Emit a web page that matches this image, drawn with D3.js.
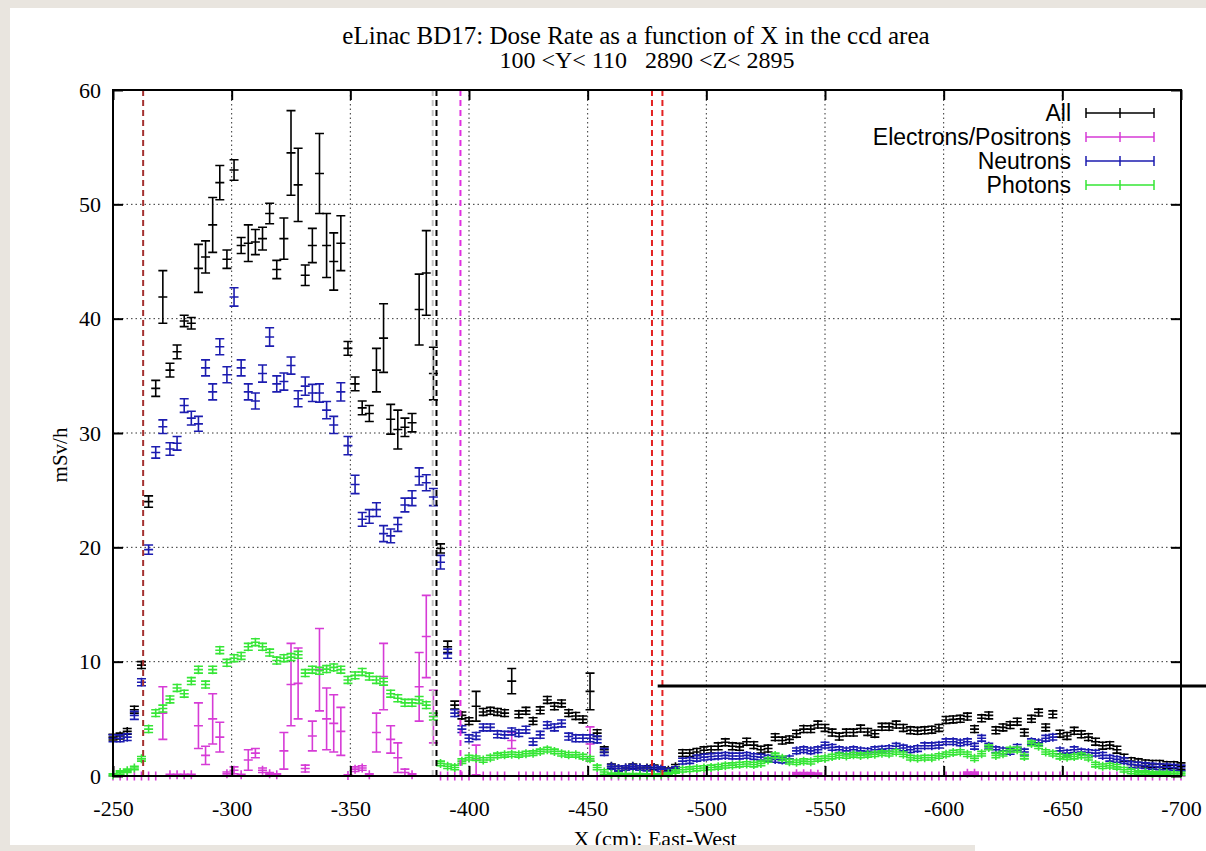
<!DOCTYPE html>
<html>
<head>
<meta charset="utf-8">
<script src="https://cdn.jsdelivr.net/npm/d3@7"></script>
<style>
  html, body { margin: 0; padding: 0; background: #e9e5df; }
  svg { display: block; }
</style>
</head>
<body>
<svg id="chart" width="1206" height="851"></svg>
<script>
// ---- data: dose rate (mSv/h) per 3 cm bin along X, 100<Y<110, 2890<Z<2895 ----
const xBins = [
  -250,-253,-256,-259,-262,-265,-268,-271,-274,-277,
  -280,-283,-286,-289,-292,-295,-298,-301,-304,-307,
  -310,-313,-316,-319,-322,-325,-328,-331,-334,-337,
  -340,-343,-346,-349,-352,-355,-358,-361,-364,-367,
  -370,-373,-376,-379,-382,-385,-388,-391,-394,-397,
  -400,-403,-406,-409,-412,-415,-418,-421,-424,-427,
  -430,-433,-436,-439,-442,-445,-448,-451,-454,-457,
  -460,-463,-466,-469,-472,-475,-478,-481,-484,-487,
  -490,-493,-496,-499,-502,-505,-508,-511,-514,-517,
  -520,-523,-526,-529,-532,-535,-538,-541,-544,-547,
  -550,-553,-556,-559,-562,-565,-568,-571,-574,-577,
  -580,-583,-586,-589,-592,-595,-598,-601,-604,-607,
  -610,-613,-616,-619,-622,-625,-628,-631,-634,-637,
  -640,-643,-646,-649,-652,-655,-658,-661,-664,-667,
  -670,-673,-676,-679,-682,-685,-688,-691,-694,-697,
  -700
];

const allDose = [
  3.4,3.5,3.9,5.8,9.7,24.0,33.9,41.9,35.5,37.1,
  39.8,39.6,44.4,45.4,48.2,51.9,45.2,53.0,46.4,46.6,
  46.7,47.0,49.2,44.3,47.0,54.5,51.7,43.8,46.4,52.7,
  46.4,45.0,46.6,37.4,34.3,32.2,31.7,35.5,38.3,31.2,
  30.3,30.5,30.9,40.8,44.0,35.2,19.9,11.3,6.2,5.3,
  4.8,6.1,5.6,5.7,5.6,5.5,8.3,5.4,5.7,4.8,
  5.75,6.65,6.1,6.35,5.5,5.25,4.95,7.4,3.75,2.3,
  0.85,0.65,0.7,0.85,0.7,0.7,0.75,0.6,0.5,0.8,
  2.0,2.0,2.1,2.25,2.3,2.6,2.95,2.6,2.55,3.0,
  2.7,2.3,2.4,3.4,3.1,3.2,3.7,4.1,4.1,4.5,
  4.2,3.8,3.45,3.8,3.8,4.15,3.85,3.7,4.3,4.3,
  4.5,4.2,4.0,3.95,4.0,4.05,4.2,4.9,4.95,5.0,
  5.2,4.1,5.05,5.3,4.0,4.25,4.45,4.75,3.8,5.0,
  5.55,4.25,5.4,3.7,3.5,3.95,3.65,3.4,3.0,2.65,
  2.7,2.3,1.6,1.3,1.2,1.1,1.05,1.05,0.95,0.95,
  0.85
];
const allErr = [
  0.25,0.25,0.25,0.3,0.3,0.5,0.7,2.3,0.6,0.6,
  0.5,0.5,2.1,1.4,2.4,1.5,0.8,0.9,0.7,1.6,
  1.1,1.0,0.9,0.8,1.8,3.7,3.2,0.9,1.5,3.5,
  2.8,2.5,2.4,0.6,0.6,0.6,0.7,1.9,3.0,1.3,
  1.7,0.8,0.8,3.1,3.7,2.3,0.4,0.5,0.35,0.3,
  0.3,1.3,0.3,0.3,0.3,0.3,1.1,0.3,0.3,0.3,
  0.3,0.3,0.3,0.3,0.3,0.3,0.3,1.6,0.3,0.25,
  0.2,0.2,0.2,0.2,0.2,0.2,0.2,0.2,0.2,0.2,
  0.3,0.3,0.3,0.3,0.3,0.3,0.3,0.3,0.3,0.3,
  0.3,0.3,0.3,0.3,0.3,0.3,0.3,0.3,0.3,0.3,
  0.3,0.3,0.3,0.3,0.3,0.3,0.3,0.3,0.3,0.3,
  0.3,0.3,0.3,0.3,0.3,0.3,0.3,0.3,0.3,0.3,
  0.3,0.3,0.3,0.3,0.3,0.3,0.3,0.3,0.3,0.3,
  0.3,0.3,0.3,0.3,0.3,0.3,0.3,0.3,0.3,0.3,
  0.3,0.3,0.3,0.3,0.3,0.3,0.3,0.3,0.3,0.3,
  0.3
];

const electronDose = [
  0,0,0,0,0,0,0,5.5,0.1,0.1,
  0.1,0.1,4.4,1.8,5.0,3.4,0.2,0.5,0.1,1.4,
  2.0,0.5,0.2,0.1,2.2,8.0,8.1,0.65,3.5,9.3,
  5.0,4.6,3.9,0.05,0.6,0.7,0.1,3.8,8.7,3.2,
  1.6,0.3,0.1,7.8,12.2,5.2,0,0,0,0,
  0,1.4,0,0,0,0,3.1,0,0,0,
  0,0,0,0,0,0,0,2.8,0,0,
  0,0,0,0,0,0,0,0,0,0,
  0,0,0,0,0,0,0,0,0,0,
  0,0,0,0,0,0,0.2,0.2,0.2,0.15,
  0,0,0,0,0,0,0,0,0,0,
  0,0,0,0,0,0,0,0,0,0,
  0.25,0.25,0,0,0,0,0,0,0,0,
  0,0,0,0,0,0,0,0,0,0,
  0,0,0,0,0,0,0,0,0,0,
  0
];
const electronErr = [
  0,0,0,0,0,0,0,2.3,0.05,0.05,
  0.05,0.05,2.0,0.8,2.2,1.3,0.15,0.3,0.05,0.9,
  0.4,0.2,0.1,0.1,1.6,3.6,3.1,0.3,1.3,3.6,
  2.7,2.5,2.1,0.05,0.2,0.2,0.1,1.7,2.9,1.2,
  1.3,0.3,0.1,3.0,3.6,2.3,0,0,0,0,
  0,1.3,0,0,0,0,0.7,0,0,0,
  0,0,0,0,0,0,0,1.5,0,0,
  0,0,0,0,0,0,0,0,0,0,
  0,0,0,0,0,0,0,0,0,0,
  0,0,0,0,0,0,0.1,0.1,0.1,0.1,
  0,0,0,0,0,0,0,0,0,0,
  0,0,0,0,0,0,0,0,0,0,
  0.1,0.1,0,0,0,0,0,0,0,0,
  0,0,0,0,0,0,0,0,0,0,
  0,0,0,0,0,0,0,0,0,0,
  0
];

const neutronDose = [
  3.3,3.3,3.4,5.3,8.2,19.8,28.3,30.55,28.6,29.1,
  32.4,31.3,30.8,35.7,33.6,37.55,35.1,41.9,35.7,33.6,
  32.8,35.2,38.4,34.3,34.5,35.9,33.0,34.1,33.5,33.5,
  32.0,30.7,33.6,28.9,25.5,22.45,22.7,23.3,21.2,21.0,
  22.0,23.7,24.3,26.2,25.65,24.4,18.7,10.7,5.5,4.1,
  3.3,3.5,4.25,4.25,3.65,3.6,3.9,3.75,4.05,3.0,
  3.6,4.45,4.25,4.6,3.45,3.3,3.3,3.3,3.2,2.1,
  0.8,0.65,0.7,0.8,0.7,0.65,0.7,0.6,0.4,0.6,
  1.3,1.35,1.55,1.65,1.7,1.75,1.8,1.75,1.75,1.8,
  1.7,1.65,1.55,1.45,1.4,1.5,2.2,2.3,2.2,2.3,
  2.7,2.5,2.3,2.2,2.3,2.2,2.15,2.3,2.35,2.4,
  2.6,2.45,2.3,2.4,2.65,2.65,2.7,3.0,3.0,2.9,
  3.0,2.6,3.3,2.6,2.3,2.2,2.15,2.5,2.1,3.0,
  2.9,3.3,3.4,2.2,2.0,2.3,2.1,2.05,2.0,1.8,
  1.55,1.45,1.35,1.0,0.95,0.9,0.85,0.8,0.8,0.75,
  0.7
];
const neutronErr = [
  0.3,0.3,0.3,0.35,0.3,0.4,0.5,0.6,0.55,0.6,
  0.6,0.6,0.65,0.7,0.7,0.7,0.7,0.8,0.7,0.7,
  0.7,0.75,0.8,0.7,0.75,0.75,0.7,0.8,0.75,0.8,
  0.75,0.75,0.8,0.8,0.8,0.6,0.6,0.6,0.7,0.6,
  0.6,0.6,0.65,0.75,0.7,0.75,0.6,0.4,0.3,0.3,
  0.3,0.3,0.3,0.3,0.3,0.3,0.3,0.3,0.3,0.3,
  0.3,0.3,0.3,0.3,0.3,0.3,0.3,0.3,0.3,0.3,
  0.2,0.2,0.2,0.2,0.2,0.2,0.2,0.2,0.2,0.2,
  0.25,0.25,0.25,0.25,0.25,0.25,0.25,0.25,0.25,0.25,
  0.25,0.25,0.25,0.25,0.25,0.25,0.25,0.25,0.25,0.25,
  0.25,0.25,0.25,0.25,0.25,0.25,0.25,0.25,0.25,0.25,
  0.25,0.25,0.25,0.25,0.25,0.25,0.25,0.25,0.25,0.25,
  0.25,0.25,0.25,0.25,0.25,0.25,0.25,0.25,0.25,0.25,
  0.25,0.25,0.25,0.25,0.25,0.25,0.25,0.25,0.25,0.25,
  0.25,0.25,0.25,0.25,0.25,0.25,0.25,0.25,0.25,0.25,
  0.25
];

const photonDose = [
  0.1,0.3,0.45,0.7,1.5,4.1,5.5,5.9,6.7,7.7,
  7.2,8.3,9.3,8.0,9.3,11.0,9.9,10.3,10.5,11.3,
  11.7,11.3,10.8,10.1,10.3,10.4,10.6,9.0,9.3,9.2,
  9.35,9.5,9.3,8.4,8.8,9.1,8.7,8.4,8.25,7.2,
  6.8,6.4,6.4,6.65,6.2,5.2,1.1,0.85,0.75,1.3,
  1.6,1.55,1.4,1.6,1.8,1.85,1.9,1.85,1.95,2.0,
  2.15,2.3,2.15,1.95,1.85,1.85,1.7,1.5,0.75,0.35,
  0.15,0.15,0.12,0.12,0.12,0.1,0.1,0.1,0.2,0.4,
  0.55,0.6,0.65,0.7,0.75,0.8,0.9,0.95,1.0,1.05,
  1.0,1.1,1.4,1.8,1.55,1.25,1.2,1.3,1.25,1.5,
  1.55,1.7,1.8,1.75,1.85,1.8,1.85,1.9,2.0,1.95,
  2.1,1.9,1.6,1.55,1.6,1.6,1.75,1.9,2.05,2.1,
  1.9,1.55,1.95,2.5,1.8,1.95,2.3,2.3,1.7,2.85,
  2.6,2.1,1.95,1.7,1.65,1.7,1.8,1.6,1.0,0.85,
  0.9,0.8,0.55,0.4,0.3,0.3,0.25,0.25,0.25,0.2,
  0.2
];
const photonErr = [
  0.1,0.15,0.15,0.15,0.2,0.3,0.3,0.3,0.3,0.3,
  0.3,0.3,0.3,0.3,0.3,0.3,0.3,0.3,0.3,0.3,
  0.3,0.3,0.3,0.3,0.3,0.3,0.3,0.3,0.3,0.3,
  0.3,0.3,0.3,0.3,0.3,0.3,0.3,0.3,0.3,0.3,
  0.3,0.3,0.3,0.3,0.3,0.3,0.2,0.2,0.2,0.2,
  0.2,0.2,0.2,0.2,0.2,0.2,0.2,0.2,0.2,0.2,
  0.2,0.2,0.2,0.2,0.2,0.2,0.2,0.2,0.2,0.2,
  0.1,0.1,0.1,0.1,0.1,0.1,0.1,0.1,0.1,0.15,
  0.2,0.2,0.2,0.2,0.2,0.2,0.2,0.2,0.2,0.2,
  0.2,0.2,0.2,0.2,0.2,0.2,0.2,0.2,0.2,0.2,
  0.2,0.2,0.2,0.2,0.2,0.2,0.2,0.2,0.2,0.2,
  0.2,0.2,0.2,0.2,0.2,0.2,0.2,0.2,0.2,0.2,
  0.2,0.2,0.2,0.2,0.2,0.2,0.2,0.2,0.2,0.2,
  0.2,0.2,0.2,0.2,0.2,0.2,0.2,0.2,0.2,0.2,
  0.2,0.2,0.2,0.2,0.15,0.15,0.15,0.15,0.15,0.15,
  0.15
];

const seriesNames = ["All", "Electrons/Positrons", "Neutrons", "Photons"];
const seriesColors = ["#000000", "#d63bd6", "#1c1cb0", "#36e636"];

const xTickValues = [-250, -300, -350, -400, -450, -500, -550, -600, -650, -700];
const yTickValues = [0, 10, 20, 30, 40, 50, 60];

// shielding / region boundaries drawn as dashed verticals (X in cm)
const boundaryX = [-262.7, -384.7, -386.3, -396.4, -477.1, -481.5];
const boundaryColors = ["#a3302f", "#c4c4c4", "#000000", "#e030e0", "#e32222", "#e32222"];
// horizontal reference level (mSv/h) and its X extent
const referenceLevel = 7.87;
const referenceFrom = -479.5;
const referenceTo = -710.6;

// ---- layout ----
const W = 1206, H = 851;
const x = d3.scaleLinear().domain([-250, -700]).range([113, 1181]);
const y = d3.scaleLinear().domain([0, 60]).range([776, 90]);
const svg = d3.select("#chart");
const serif = "'Liberation Serif', 'Times New Roman', serif";
const sans = "'Liberation Sans', Arial, Helvetica, sans-serif";
const plainNumber = d => String(d);   // ASCII hyphen for negatives

// paper
svg.append("rect").attr("width", W).attr("height", H).attr("fill", "#e9e5df");
svg.append("rect").attr("x", 10).attr("y", 8).attr("width", W - 10).attr("height", H - 8).attr("fill", "#ffffff");

// grid
const grid = svg.append("g")
  .attr("stroke", "#333").attr("stroke-width", 1).attr("stroke-dasharray", "1.5,3");
grid.selectAll("line.gx").data(xTickValues.slice(1, -1)).join("line")
  .attr("class", "gx")
  .attr("x1", d => x(d)).attr("x2", d => x(d))
  .attr("y1", y(0)).attr("y2", y(60));
grid.selectAll("line.gy").data(yTickValues.slice(1, -1)).join("line")
  .attr("class", "gy")
  .attr("x1", x(-250)).attr("x2", x(-700))
  .attr("y1", d => y(d)).attr("y2", d => y(d));

// error-bar points: "+" marker, vertical bar and caps
const CAP = 4.5;
function errPath(xv, v, e) {
  const cx = x(xv), cy = y(v), lo = y(v - e), hi = y(v + e);
  return `M${cx - CAP},${cy}H${cx + CAP}M${cx},${cy - CAP}V${cy + CAP}` +
         `M${cx},${lo}V${hi}M${cx - CAP},${lo}H${cx + CAP}M${cx - CAP},${hi}H${cx + CAP}`;
}

const seriesData = [
  [allDose, allErr],
  [electronDose, electronErr],
  [neutronDose, neutronErr],
  [photonDose, photonErr]
];

seriesData.forEach(([vals, errs], k) => {
  const pts = xBins.map((xv, i) => ({ x: xv, v: vals[i], e: errs[i] }));
  svg.append("g")
    .attr("fill", "none")
    .attr("stroke", seriesColors[k])
    .attr("stroke-width", 1.6)
    .selectAll("path").data(pts).join("path")
    .attr("d", d => errPath(d.x, d.v, d.e));
});

// dashed boundaries
svg.append("g").selectAll("line").data(boundaryX).join("line")
  .attr("x1", d => x(d)).attr("x2", d => x(d))
  .attr("y1", y(0)).attr("y2", y(60))
  .attr("stroke", (d, i) => boundaryColors[i])
  .attr("stroke-width", 2)
  .attr("stroke-dasharray", "6,4");

// reference level
svg.append("line")
  .attr("x1", x(referenceFrom)).attr("x2", x(referenceTo))
  .attr("y1", y(referenceLevel)).attr("y2", y(referenceLevel))
  .attr("stroke", "#000").attr("stroke-width", 3);

// axes (inward ticks on all four sides)
function styleAxis(g) {
  g.select(".domain").remove();
  g.selectAll(".tick line").attr("stroke", "#000").attr("stroke-width", 2);
  g.selectAll(".tick text").attr("fill", "#000")
    .style("font-family", serif).style("font-size", "22px");
}
svg.append("g").attr("transform", `translate(0,${y(0)})`)
  .call(d3.axisBottom(x).tickValues(xTickValues).tickSize(-10).tickPadding(24).tickFormat(plainNumber))
  .call(styleAxis);
svg.append("g").attr("transform", `translate(0,${y(60)})`)
  .call(d3.axisTop(x).tickValues(xTickValues).tickSize(-10).tickFormat(""))
  .call(styleAxis);
svg.append("g").attr("transform", `translate(${x(-250)},0)`)
  .call(d3.axisLeft(y).tickValues(yTickValues).tickSize(-10).tickPadding(12).tickFormat(plainNumber))
  .call(styleAxis);
svg.append("g").attr("transform", `translate(${x(-700)},0)`)
  .call(d3.axisRight(y).tickValues(yTickValues).tickSize(-10).tickFormat(""))
  .call(styleAxis);

// frame
svg.append("rect")
  .attr("x", x(-250)).attr("y", y(60))
  .attr("width", x(-700) - x(-250)).attr("height", y(0) - y(60))
  .attr("fill", "none").attr("stroke", "#000").attr("stroke-width", 2);

// titles
svg.append("text").attr("x", 636).attr("y", 44).attr("text-anchor", "middle")
  .style("font-family", serif).style("font-size", "25px")
  .text("eLinac BD17: Dose Rate as a function of X in the ccd area");
svg.append("text").attr("x", 647).attr("y", 68).attr("text-anchor", "middle")
  .style("font-family", serif).style("font-size", "24px").style("white-space", "pre")
  .text("100 <Y< 110   2890 <Z< 2895");
svg.append("text")
  .attr("transform", "translate(67,455) rotate(-90)")
  .attr("text-anchor", "middle")
  .style("font-family", serif).style("font-size", "21px")
  .text("mSv/h");
svg.append("text").attr("x", 655).attr("y", 846).attr("text-anchor", "middle")
  .style("font-family", serif).style("font-size", "22px")
  .text("X (cm): East-West");

// legend
const legend = svg.append("g");
seriesNames.forEach((name, k) => {
  const cy = 113 + k * 24;
  legend.append("text").attr("x", 1071).attr("y", cy).attr("dy", "0.36em")
    .attr("text-anchor", "end")
    .style("font-family", sans).style("font-size", "23px")
    .text(name);
  legend.append("path")
    .attr("d", `M1086,${cy}H1154M1086,${cy - 5}V${cy + 5}M1154,${cy - 5}V${cy + 5}M1120,${cy - 5}V${cy + 5}`)
    .attr("fill", "none").attr("stroke", seriesColors[k]).attr("stroke-width", 1.5);
});

// paper margin under the axis label
svg.append("rect").attr("x", 0).attr("y", 845).attr("width", 975).attr("height", H - 845).attr("fill", "#e9e5df");
</script>
</body>
</html>
